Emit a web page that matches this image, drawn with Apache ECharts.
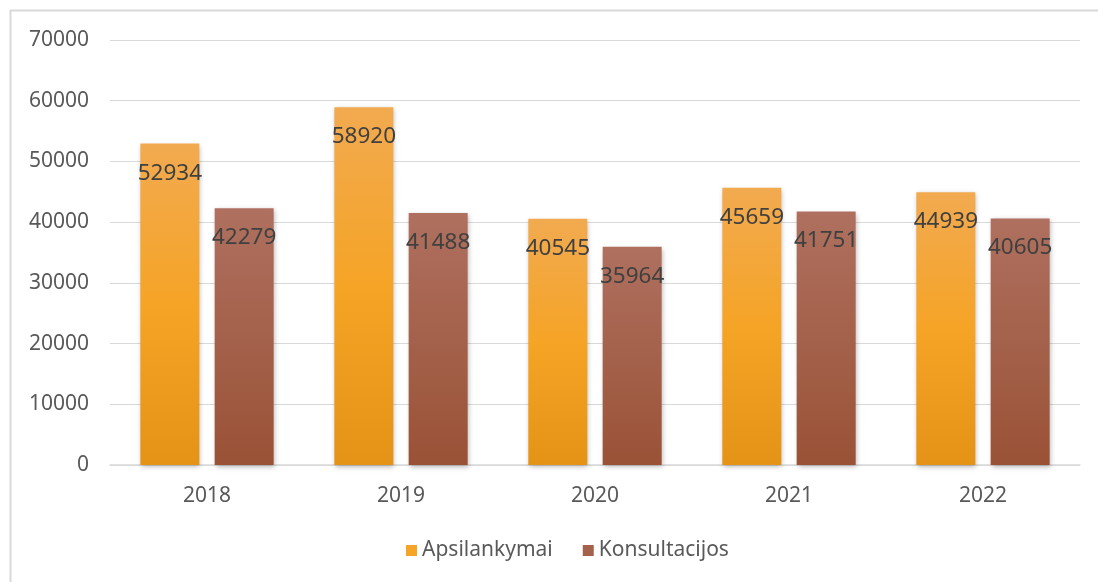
<!DOCTYPE html>
<html><head><meta charset="utf-8">
<script src="https://cdn.jsdelivr.net/npm/echarts@6/dist/echarts.min.js"></script>
<style>html,body{margin:0;padding:0;background:#fff}#c{width:1098px;height:582px}</style>
</head><body><div id="c"></div>
<script>
const categories = ['2018', '2019', '2020', '2021', '2022'];
const apsilankymai = [52934, 58920, 40545, 45659, 44939];
const konsultacijos = [42279, 41488, 35964, 41751, 40605];
const seriesNames = ['Apsilankymai', 'Konsultacijos'];

const chart = echarts.init(document.getElementById('c'), null, {renderer: 'canvas'});
const font = '"Noto Sans", "DejaVu Sans", sans-serif';
function grad(top, mid, bottom) {
  return new echarts.graphic.LinearGradient(0, 0, 0, 1, [
    {offset: 0, color: top}, {offset: 0.5, color: mid}, {offset: 1, color: bottom}
  ]);
}
const orange = grad('#F2AA50', '#F5A426', '#E59316');
const brown = grad('#AF705F', '#A4614B', '#9A5236');
const labelCfg = {
  show: true, position: 'insideTop', distance: 18,
  color: '#404040', fontSize: 22.5, fontFamily: font
};
const shadow = {shadowColor: 'rgba(0,0,0,0.28)', shadowBlur: 5, shadowOffsetX: 1, shadowOffsetY: 2};
chart.setOption({
  animation: false,
  backgroundColor: '#fff',
  graphic: [{
    type: 'polyline', silent: true,
    shape: {points: [[10.5, 600], [10.5, 10.5], [1100, 10.5]]},
    style: {stroke: '#D9D9D9', lineWidth: 2, fill: null}
  }],
  grid: {left: 110, right: 18, top: 40, bottom: 117, containLabel: false},
  legend: {
    bottom: 16, left: 401, itemWidth: 11, itemHeight: 11, itemGap: 30,
    icon: 'rect',
    textStyle: {color: '#595959', fontSize: 21, fontFamily: font},
    data: [{name: seriesNames[0], itemStyle: {color: '#F5A426'}}, {name: seriesNames[1], itemStyle: {color: '#A4614B'}}]
  },
  xAxis: {
    type: 'category', data: categories,
    axisLine: {show: true, lineStyle: {color: '#D9D9D9', width: 1.5}},
    axisTick: {show: false},
    axisLabel: {color: '#595959', fontSize: 21, fontFamily: font, margin: 21}
  },
  yAxis: {
    type: 'value', min: 0, max: 70000, interval: 10000,
    axisLine: {show: false}, axisTick: {show: false},
    splitLine: {lineStyle: {color: '#D9D9D9', width: 1.2}},
    axisLabel: {color: '#595959', fontSize: 21, fontFamily: font, margin: 21,
      formatter: function (v) { return String(v); }}
  },
  series: [
    {name: seriesNames[0], type: 'bar', data: apsilankymai, barWidth: 59, barGap: '26%',
     itemStyle: Object.assign({color: orange}, shadow), label: labelCfg},
    {name: seriesNames[1], type: 'bar', data: konsultacijos, barWidth: 59, barGap: '26%',
     itemStyle: Object.assign({color: brown}, shadow), label: labelCfg}
  ]
});
</script></body></html>
